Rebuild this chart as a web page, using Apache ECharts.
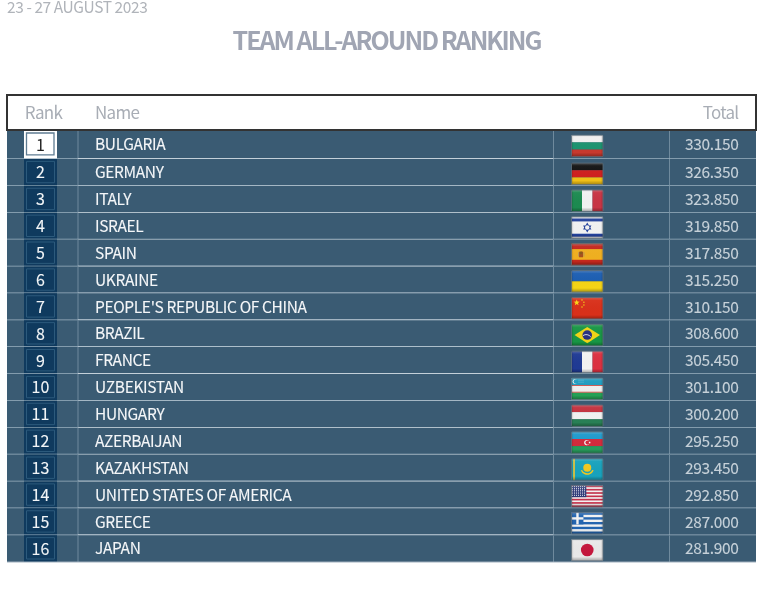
<!DOCTYPE html>
<html><head><meta charset="utf-8">
<style>html,body{margin:0;padding:0;background:#fff}#c{width:776px;height:590px}</style>
<script src="https://cdn.jsdelivr.net/npm/echarts@6/dist/echarts.min.js"></script>
</head><body><div id="c"></div>
<script>
var dateText = '23 - 27 AUGUST 2023';
var titleText = 'TEAM ALL-AROUND RANKING';
var headers = ['Rank', 'Name', 'Total'];
var ranks = ['1','2','3','4','5','6','7','8','9','10','11','12','13','14','15','16'];
var names = ['BULGARIA','GERMANY','ITALY','ISRAEL','SPAIN','UKRAINE',"PEOPLE'S REPUBLIC OF CHINA",'BRAZIL','FRANCE','UZBEKISTAN','HUNGARY','AZERBAIJAN','KAZAKHSTAN','UNITED STATES OF AMERICA','GREECE','JAPAN'];
var flagCodes = ['BG','DE','IT','IL','ES','UA','CN','BR','FR','UZ','HU','AZ','KZ','US','GR','JP'];
var totals = ['330.150','326.350','323.850','319.850','317.850','315.250','310.150','308.600','305.450','301.100','300.200','295.250','293.450','292.850','287.000','281.900'];

// tight tracking of the reference's typography
var tracking = {};
tracking[titleText] = -2; tracking[dateText] = -0.42;
headers.forEach(function(h){tracking[h] = -0.7;});
names.concat(totals).forEach(function(s){tracking[s] = -0.36;});
(function(){
  var proto = CanvasRenderingContext2D.prototype;
  ['fillText','strokeText'].forEach(function(fn){
    var orig = proto[fn];
    proto[fn] = function(s,x,y,m){
      var t = tracking[s];
      this.letterSpacing = t ? t + 'px' : '0px';
      if (m === undefined) orig.call(this,s,x,y); else orig.call(this,s,x,y,m);
      this.letterSpacing = '0px';
    };
  });
})();

var FONT = '"Noto Sans CJK JP","Noto Sans",sans-serif';
var FW = 31.5, FH = 21.5;
function R(x,y,w,h,f){return {type:'rect',shape:{x:x,y:y,width:w,height:h},style:{fill:f}};}
function C(x,y,r,f){return {type:'circle',shape:{cx:x,cy:y,r:r},style:{fill:f}};}
function P(p,f){return {type:'polygon',shape:{points:p},style:{fill:f}};}
function star(cx,cy,ro,f,n){var p=[];n=n||5;for(var i=0;i<n*2;i++){var a=-Math.PI/2+i*Math.PI/n,r=i%2?ro*0.42:ro;p.push([cx+r*Math.cos(a),cy+r*Math.sin(a)]);}return P(p,f);}
function H(cols){var h=FH/cols.length;return cols.map(function(c,i){return R(0,i*h,FW,h+0.1,c);});}
function V(cols){var w=FW/cols.length;return cols.map(function(c,i){return R(i*w,0,w+0.1,FH,c);});}
function flagShapes(code){
  switch(code){
    case 'BG':return H(['#f0f0f0','#1c9470','#c8392e']);
    case 'DE':return H(['#141414','#cf201f','#f0c018']);
    case 'IT':return V(['#1c8a50','#f2f2f2','#c83444']);
    case 'IL':return [R(0,0,FW,FH,'#f2f2f2'),R(0,1.6,FW,3,'#24429c'),R(0,FH-4.6,FW,3,'#24429c'),
      P([[FW/2,5.6],[FW/2+4.2,12.8],[FW/2-4.2,12.8]],'#24429c'),P([[FW/2,15.6],[FW/2+4.2,8.6],[FW/2-4.2,8.6]],'#24429c'),C(FW/2,10.7,2.2,'#f2f2f2')];
    case 'ES':return [R(0,0,FW,FH,'#f0b020'),R(0,0,FW,5.4,'#c4281e'),R(0,FH-5.4,FW,5.4,'#c4281e'),R(7.6,8,4,5.6,'#a8501e'),C(9.6,9.2,1.3,'#8a5a1a'),R(6.5,8.6,.9,4.2,'#b89a5a'),R(12,8.6,.9,4.2,'#b89a5a')];
    case 'UA':return H(['#1c5eb2','#f4d416']);
    case 'CN':return [R(0,0,FW,FH,'#d9301a'),star(5.2,5.2,3.2,'#f8d616'),C(10.5,2.6,.8,'#f0c416'),C(12.4,4.8,.8,'#f0c416'),C(12.4,7.6,.8,'#f0c416'),C(10.5,9.6,.8,'#f0c416')];
    case 'BR':return [R(0,0,FW,FH,'#189645'),P([[FW/2,2.6],[FW-3,FH/2],[FW/2,FH-2.6],[3,FH/2]],'#f0d416'),C(FW/2,FH/2,4.8,'#27307f'),{type:'arc',shape:{cx:FW/2-1,cy:FH/2+5,r:5.5,startAngle:-2.2,endAngle:-0.6},style:{stroke:'#e8e8e8',lineWidth:.9,fill:null}}];
    case 'FR':return V(['#1f3a94','#f2f2f2','#dc3040']);
    case 'UZ':return [R(0,0,FW,FH,'#f0f0f0'),R(0,0,FW,7,'#1e9cc0'),R(0,FH-7,FW,7,'#24a055'),R(0,7,FW,.8,'#c8382e'),R(0,FH-7.8,FW,.8,'#c8382e'),C(3.2,3.4,2.2,'#f0f0f0'),C(4.1,3.4,2,'#1e9cc0'),C(7.5,2,.4,'#f0f0f0'),C(9.5,2,.4,'#f0f0f0'),C(11.5,2,.4,'#f0f0f0'),C(7.5,4,.4,'#f0f0f0'),C(9.5,4,.4,'#f0f0f0'),C(11.5,4,.4,'#f0f0f0')];
    case 'HU':return H(['#c4323f','#f2f2f2','#288055']);
    case 'AZ':return H(['#1f9bcc','#d42a3c','#289c5c']).concat([C(FW/2-.5,FH/2,2.6,'#f2f2f2'),C(FW/2+.3,FH/2,2.1,'#d42a3c'),star(FW/2+2.4,FH/2,1.3,'#f2f2f2',8)]);
    case 'KZ':return [R(0,0,FW,FH,'#18a2bc'),R(1.5,0,2,FH,'#c8c04a'),C(FW/2,9,4,'#f0c820'),{type:'arc',shape:{cx:FW/2,cy:9,r:6.3,startAngle:0.4,endAngle:2.74},style:{stroke:'#f0c820',lineWidth:1.4,fill:null}}];
    case 'US':{var a=[R(0,0,FW,FH,'#f2f2f2')],h=FH/13;for(var i=0;i<13;i+=2)a.push(R(0,i*h,FW,h,'#c4304a'));a.push(R(0,0,FW*.47,h*7,'#2e3a78'));for(var y=1;y<10.5;y+=1.8)for(var x=1;x<14.4;x+=2)a.push(C(x,y,.55,'#e4e4ee'));return a;}
    case 'GR':{var b=[R(0,0,FW,FH,'#f2f2f2')],g=FH/9;for(var j=0;j<9;j+=2)b.push(R(0,j*g,FW,g,'#2264b0'));b.push(R(0,0,g*5,g*5,'#2264b0'),R(g*2,0,g,g*5,'#f2f2f2'),R(0,g*2,g*5,g,'#f2f2f2'));return b;}
    case 'JP':return [R(0,0,FW,FH,'#e8e8e8'),C(FW/2,FH/2,6.3,'#c4163c')];
  }
  return [];
}
function flagGroup(code,x,y){
  var ov={type:'rect',shape:{x:0,y:0,width:FW,height:FH,r:1},style:{stroke:'rgba(95,112,125,0.8)',lineWidth:1,fill:{type:'linear',x:0,y:0,x2:0,y2:1,colorStops:[{offset:0,color:'rgba(120,130,140,0.4)'},{offset:.14,color:'rgba(255,255,255,0.03)'},{offset:.8,color:'rgba(0,0,0,0)'},{offset:1,color:'rgba(0,0,0,0.35)'}]}}};
  var side={type:'rect',shape:{x:0,y:0,width:FW,height:FH},style:{fill:{type:'linear',x:0,y:0,x2:1,y2:0,colorStops:[{offset:0,color:'rgba(0,0,0,0.18)'},{offset:.07,color:'rgba(0,0,0,0)'},{offset:.93,color:'rgba(0,0,0,0)'},{offset:1,color:'rgba(0,0,0,0.18)'}]}}};
  return {type:'group',x:x,y:y,children:flagShapes(code).concat([side,ov])};
}
function txt(x,y,s,size,col,align,heavy){var st={text:s,font:'normal '+size+'px '+FONT,fill:col,align:align||'left',verticalAlign:'middle'};if(heavy){st.stroke=col;st.lineWidth=heavy;}return {type:'text',x:x,y:y,style:st};}

function renderRow(params,api){
  var i=api.value(1);
  var c=api.coord([0,i]), bh=api.size([0,1])[1];
  var gx=params.coordSys.x, gw=params.coordSys.width;
  var top=c[1]-bh/2, bot=c[1]+bh/2, first=i===0;
  var drawTop=first?top-2:top;
  var ch=[];
  ch.push(R(gx,drawTop,gw,bot-drawTop,'#3a5b73'));
  ch.push(R(24,drawTop,33,bot-drawTop,'#0f3a5e'));
  if(first){
    ch.push(R(24,drawTop,33,bot-drawTop,'#ffffff'));
    ch.push({type:'rect',shape:{x:26.5,y:top+1,width:27.5,height:bh-5},style:{fill:'#fff',stroke:'#5f7c92',lineWidth:1.3}});
  } else {
    ch.push({type:'rect',shape:{x:26.5,y:top+2.5,width:28,height:bh-5.5},style:{fill:'#0f3a5e',stroke:'#2c5a7c',lineWidth:1}});
  }
  [78,553.5,669.5].forEach(function(x){ch.push(R(x-.5,drawTop,1,bot-drawTop,'#6f8a9d'));});
  if(i<ranks.length-1){
    ch.push(R(gx,bot-.7,gw,1.4,'#9db2c1'));
    ch.push(R(78,bot-.6,475,1.2,'#d8e2e9'));
  } else {
    ch.push(R(gx,bot-.5,gw,1,'#9fb0bd'));
  }
  var ty=c[1]-(first?1:0);
  ch.push(txt(40.5,ty,ranks[i],16,first?'#222':'#f2f5f7','center',first?0:0.1));
  ch.push(txt(95,ty,names[i],15.5,'#f4f6f8','left',0.1));
  ch.push(txt(738.5,ty,totals[i],15.5,'#c6d1d9','right',0.1));
  ch.push(flagGroup(flagCodes[i],571.5,c[1]+1.5-FH/2-(first?1:0)));
  return {type:'group',children:ch};
}

var chart=echarts.init(document.getElementById('c'),null,{renderer:'canvas'});
chart.setOption({
  animation:false,
  backgroundColor:'#fff',
  title:[
    {text:titleText,left:381.5,textAlign:'center',top:23,textStyle:{fontFamily:FONT,fontWeight:'bold',fontSize:25,color:'#a0a5b3'}},
    {text:dateText,left:2,top:-6,textStyle:{fontFamily:FONT,fontWeight:'normal',fontSize:15.5,color:'#b0b4ba'}}
  ],
  grid:{left:7,right:20,top:132,bottom:28},
  xAxis:{type:'value',min:0,max:1,show:false},
  yAxis:{type:'category',inverse:true,data:ranks,show:false},
  graphic:[
    {type:'rect',shape:{x:7,y:95,width:749,height:35},style:{fill:'#fff',stroke:'#333',lineWidth:2},z:5},
    {type:'text',x:43.5,y:112.5,z:6,style:{text:headers[0],font:'normal 17px '+FONT,fill:'#a8adb5',align:'center',verticalAlign:'middle'}},
    {type:'text',x:95,y:112.5,z:6,style:{text:headers[1],font:'normal 17px '+FONT,fill:'#a8adb5',align:'left',verticalAlign:'middle'}},
    {type:'text',x:738.5,y:112.5,z:6,style:{text:headers[2],font:'normal 17px '+FONT,fill:'#a8adb5',align:'right',verticalAlign:'middle'}}
  ],
  series:[{type:'custom',clip:false,silent:true,renderItem:renderRow,data:ranks.map(function(r,i){return [0,i];}),encode:{x:0,y:1}}]
});
</script></body></html>
